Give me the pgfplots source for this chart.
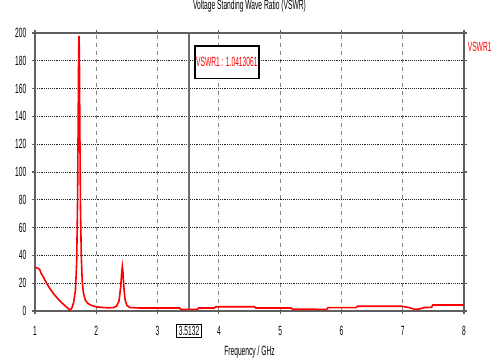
\documentclass[border=0pt]{standalone}
\usepackage{pgfplots}
\pgfplotsset{compat=1.18}
\usepackage{fontspec}
\setmainfont{Liberation Sans}[FakeStretch=0.5]
\definecolor{framegray}{RGB}{95,95,95}
\definecolor{gridgray}{RGB}{130,130,130}
\definecolor{markgray}{RGB}{110,110,110}
\begin{document}
\fontsize{10}{12}\selectfont
\begin{tikzpicture}
\useasboundingbox (-26.25pt,-38.25pt) rectangle (342pt,233.25pt);
\begin{axis}[
  at={(0,0)}, anchor=south west,
  scale only axis, width=321.75pt, height=208.5pt,
  xmin=1, xmax=8, ymin=0, ymax=200,
  xtick={1,2,...,8}, ytick={0,20,...,200},
  /pgf/number format/assume math mode=true,
  tick label style={font=\fontsize{10}{12}\selectfont},
  xticklabel style={anchor=center, yshift=-12.5pt},
  yticklabel style={anchor=east, xshift=-0.5pt},
  tick align=outside, major tick length=2.5pt,
  tick style={framegray, line width=0.8pt},
  axis line style={framegray, line width=1pt},
  xmajorgrids, ymajorgrids,
  x grid style={gridgray, dashed, line width=0.6pt},
  y grid style={black!85, densely dotted, line width=0.7pt},
  title={Voltage Standing Wave Ratio (VSWR)},
  title style={at={(0.5,1)}, anchor=center, yshift=14pt, font=\fontsize{10}{12}\selectfont},
  xlabel={Frequency / GHz},
  xlabel style={at={(0.5,0)}, anchor=center, yshift=-30.5pt, font=\fontsize{10}{12}\selectfont},
  clip=true,
]
\addplot[markgray, line width=1.1pt, forget plot] coordinates {(3.5132,0) (3.5132,200)};
\addplot[red, line width=1.2pt, no marks] coordinates {
(1.00,31.5)(1.03,31)(1.06,30.5)(1.08,29.5)(1.10,27)(1.13,25)(1.16,22.5)(1.19,20)
(1.23,17)(1.27,14.5)(1.31,12)(1.35,10)(1.40,7.5)(1.46,5)(1.51,3)(1.55,1.5)(1.57,0.6)
(1.60,2)(1.63,6)(1.66,15)(1.68,35)(1.695,80)(1.705,140)(1.712,185)(1.718,198)
(1.724,185)(1.732,130)(1.742,75)(1.755,40)(1.77,22)(1.79,13)(1.82,8)(1.86,5.5)
(1.92,4)(2.0,3)(2.1,2.5)(2.2,2.3)(2.28,2.5)(2.33,3.5)(2.37,7)(2.40,18)(2.415,28)
(2.425,32)(2.435,28)(2.45,17)(2.47,8)(2.50,4)(2.55,2.5)(2.7,2.2)(3.0,2.2)(3.36,2.2)
(3.38,1.2)(3.65,1.2)(3.67,2.2)(3.93,2.2)(3.95,3.1)(4.58,3.1)(4.60,2.2)(5.18,2.2)
(5.20,1.3)(5.76,1.2)(5.78,2.4)(6.24,2.4)(6.26,3.4)(6.98,3.4)(7.1,2.5)(7.2,1.2)
(7.28,1.5)(7.35,2.5)(7.47,2.6)(7.49,4.3)(8.0,4.3)};
\node[draw=black, line width=1.2pt, fill=white, minimum width=46.5pt, minimum height=24.5pt, inner sep=1pt, text=red, anchor=north west]
  at (axis cs:3.594,191.4) {VSWR1 : 1.0413061};
\end{axis}
\node[draw=black, line width=0.6pt, fill=white, inner sep=1.5pt, anchor=center]
  at ({(3.5132-1)/7*321.75pt},-15pt) {3.5132};
\node[text=red, anchor=center] at (333.5pt,198pt) {VSWR1};
\end{tikzpicture}
\end{document}
